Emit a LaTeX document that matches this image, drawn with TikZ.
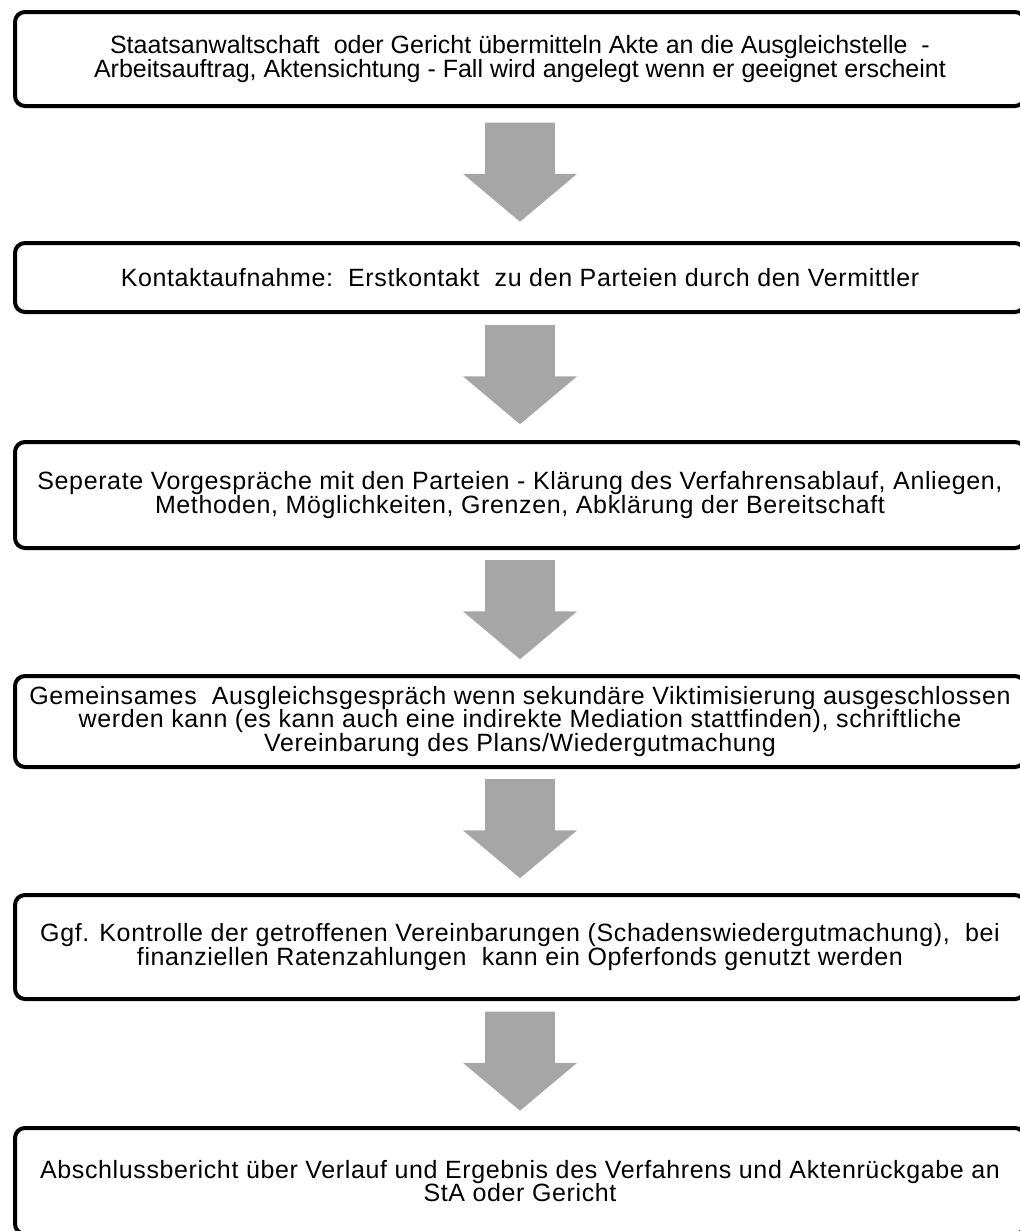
\documentclass[tikz,border=0pt]{standalone}
\usepackage{fontspec}
\setmainfont{Liberation Sans}
\usepackage{xcolor}
\usepackage{tikz}
\usetikzlibrary{shapes.arrows, positioning, calc}
\definecolor{arrowgray}{RGB}{166,166,166}
\newcommand{\boxfont}{\fontsize{12.5}{11.6}\selectfont\lineskiplimit=-20pt\lineskip=0pt}
\tikzstyle{stepbox} = [draw=black, line width=2pt, rounded corners=5pt, fill=white, minimum width=505pt, align=center, font=\boxfont\addfontfeature{LetterSpace=2.5}]

\begin{document}
\begin{tikzpicture}[
    downarrow/.style={single arrow, shape border rotate=270, fill=arrowgray, draw=none, minimum height=47.5pt, minimum width=56.5pt, single arrow head extend=11pt, single arrow tip angle=100, inner sep=17.25pt, yshift=8.5pt}]
    \useasboundingbox (0,0) rectangle (510pt,-615.5pt);
    \clip (0,0) rectangle (510pt,-615.5pt);
    \node[stepbox, minimum height=47pt, font=\boxfont] (a) at (260pt,-29.5pt) {Staatsanwaltschaft\ \ oder Gericht übermitteln Akte an die Ausgleichstelle\ \ -\\Arbeitsauftrag, Aktensichtung - Fall wird angelegt wenn er geeignet erscheint};
    \node[stepbox, minimum height=34.5pt, below=66.5pt of a] (b) {Kontaktaufnahme:\ \ Erstkontakt\ \ zu den Parteien durch den Vermittler};
    \node[stepbox, minimum height=53pt, below=63pt of b] (c) {Seperate Vorgespräche mit den Parteien - Klärung des Verfahrensablauf, Anliegen,\\Methoden, Möglichkeiten, Grenzen, Abklärung der Bereitschaft};
    \node[stepbox, minimum height=45.5pt, below=62pt of c] (d) {Gemeinsames\ \ Ausgleichsgespräch wenn sekundäre Viktimisierung ausgeschlossen\\werden kann (es kann auch eine indirekte Mediation stattfinden), schriftliche\\Vereinbarung des Plans/Wiedergutmachung};
    \node[stepbox, minimum height=52pt, below=62pt of d] (e) {Ggf. Kontrolle der getroffenen Vereinbarungen (Schadenswiedergutmachung),\ \ bei\\finanziellen Ratenzahlungen\ \ kann ein Opferfonds genutzt werden};
    \node[stepbox, minimum height=53pt, below=62.5pt of e] (f) {Abschlussbericht über Verlauf und Ergebnis des Verfahrens und Aktenrückgabe an\\StA oder Gericht};
    \node[downarrow] (ab) at ($(a.south)!0.5!(b.north)$) {};
    \node[downarrow] (bc) at ($(b.south)!0.5!(c.north)$) {};
    \node[downarrow] (cd) at ($(c.south)!0.5!(d.north)$) {};
    \node[downarrow] (de) at ($(d.south)!0.5!(e.north)$) {};
    \node[downarrow] (ef) at ($(e.south)!0.5!(f.north)$) {};
\end{tikzpicture}
\end{document}
